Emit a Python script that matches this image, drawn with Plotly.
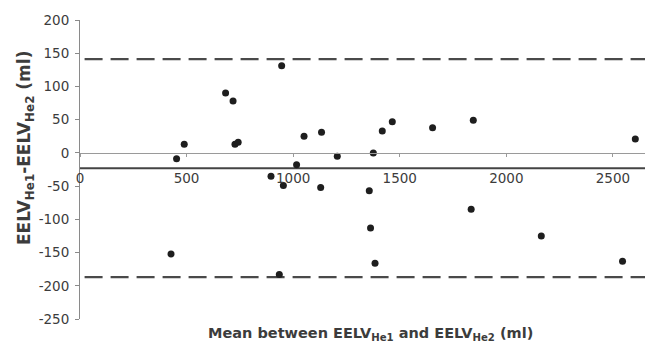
import plotly.graph_objects as go

# Data (Bland-Altman plot)
mean_vals = [453, 489, 427, 683, 718, 727, 742, 896, 935, 946, 954, 1016, 1051, 1129,
             1133, 1207, 1357, 1363, 1376, 1384, 1418, 1465, 1654, 1835, 1845, 2164, 2545, 2605]
diff_vals = [-9, 13, -152, 90, 78, 13, 16, -35, -183, 131, -49, -18, 25, -52,
             31, -5, -57, -113, 0, -166, 33, 47, 38, -85, 49, -125, -163, 21]
upper_loa = 141
mean_bias = -23
lower_loa = -187

x_ticks = [0, 500, 1000, 1500, 2000, 2500]
y_ticks = [200, 150, 100, 50, 0, -50, -100, -150, -200, -250]

x_range = [0, 2688]
y_range = [-250, 200]

OFF = 8  # page body margin
W, H = 653 - OFF, 343 - OFF
ml, mr, mt, mb = 80 - OFF, 0, 20 - OFF, 24
pw, ph = W - ml - mr, H - mt - mb

def px_x(p):
    return (p - OFF - ml) / pw

def px_y(p):
    return (OFF + mt + ph - p) / ph

tick_font = "DejaVu Sans, Liberation Sans, Arial, sans-serif"
title_font = "DejaVu Sans, Liberation Sans, Arial, sans-serif"
txt_col = "#3c3c3c"

fig = go.Figure()
fig.add_trace(go.Scatter(
    x=mean_vals, y=diff_vals, mode="markers",
    marker=dict(size=7, color="#1e1e1e", symbol="circle"),
    showlegend=False, hoverinfo="skip"))

shapes = []
for yv, dash, width, col in [(upper_loa, "18px,8px", 2.2, "#4a4a4a"),
                             (lower_loa, "18px,8px", 2.2, "#4a4a4a"),
                             (mean_bias, "solid", 2, "#444444")]:
    shapes.append(dict(type="line", xref="paper", yref="y", x0=0.008 if dash != "solid" else 0, x1=1,
                       y0=yv, y1=yv, line=dict(color=col, width=width, dash=dash), layer="below"))

zero_pos = (0 - y_range[0]) / (y_range[1] - y_range[0])

fig.update_layout(
    width=W, height=H,
    margin=dict(l=ml, r=mr, t=mt, b=mb, autoexpand=False),
    paper_bgcolor="white", plot_bgcolor="white",
    font=dict(family=tick_font, color=txt_col, size=13),
    shapes=shapes,
    xaxis=dict(range=x_range, tickvals=x_ticks, ticktext=[str(v) for v in x_ticks],
               showgrid=False, zeroline=False, showline=True, linecolor="#9a9a9a", linewidth=1,
               anchor="free", position=zero_pos, ticks="outside", ticklen=3, tickcolor="#9a9a9a",
               ticklabelstandoff=10, automargin=False,
               tickfont=dict(family=tick_font, size=13.5, color=txt_col)),
    yaxis=dict(range=y_range, tickvals=y_ticks, ticktext=[str(v) for v in y_ticks],
               showgrid=False, zeroline=False, showline=True, linecolor="#8a8a8a", linewidth=1,
               ticks="outside", ticklen=4, tickcolor="#8a8a8a", automargin=False,
               ticklabelstandoff=3,
               tickfont=dict(family=tick_font, size=13.5, color=txt_col)),
    annotations=[
        dict(text="<b>Mean between EELV<sub>He1</sub> and EELV<sub>He2</sub> (ml)</b>",
             xref="paper", yref="paper", x=px_x(370), y=px_y(334), showarrow=False,
             xanchor="center", yanchor="middle",
             font=dict(family=title_font, size=14.5, color=txt_col)),
        dict(text="<b>EELV<sub>He1</sub>-EELV<sub>He2</sub> (ml)</b>",
             xref="paper", yref="paper", x=px_x(25), y=px_y(148), showarrow=False,
             textangle=-90, xanchor="center", yanchor="middle",
             font=dict(family=title_font, size=17, color=txt_col)),
    ],
)

fig.write_html("out.html")
